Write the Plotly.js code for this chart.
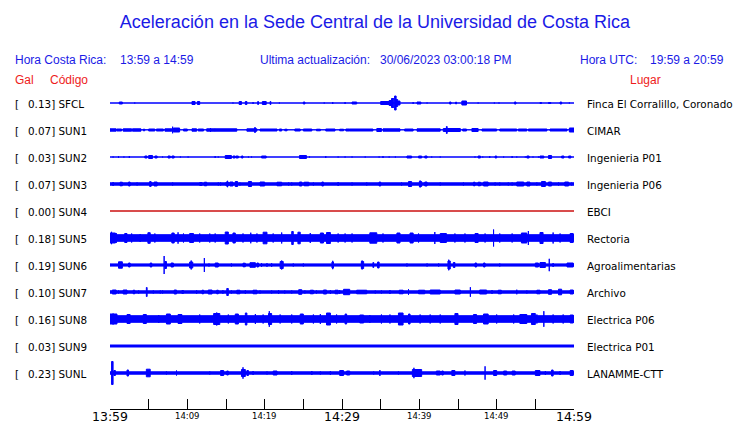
<!DOCTYPE html>
<html><head><meta charset="utf-8">
<script src="https://cdn.plot.ly/plotly-3.0.1.min.js"></script>
<style>html,body{margin:0;padding:0;background:#fff}</style>
</head><body><div id="chart" style="width:740px;height:423px"></div>
<script>
// ---------------- data ----------------
const codes = ['SFCL','SUN1','SUN2','SUN3','SUN4','SUN5','SUN6','SUN7','SUN8','SUN9','SUNL'];
const galValues = [0.13,0.07,0.03,0.07,0.00,0.18,0.19,0.10,0.16,0.03,0.23];
const places = ['Finca El Corralillo, Coronado','CIMAR','Ingenieria P01','Ingenieria P06','EBCI','Rectoria','Agroalimentarias','Archivo','Electrica P06','Electrica P01','LANAMME-CTT'];
// background trace amplitude (half-height, screen units) per station
const baseAmp = [0.5,0.7,0.5,1.7,0.5,3.8,1.6,1.7,3.8,1.5,1.7];
// minute ticks (minutes after 13:59) and their labels
const tickMinutes = [0,5,10,15,20,25,30,35,40,45,50,55,60];
const tickLabels = ['13:59','','14:09','','14:19','','14:29','','14:39','','14:49','','14:59'];
// events: [start minute, end minute, half amplitude]
const eventsSFCL = [[1.2,1.6,1.5],[3.2,3.2,1],[10.6,11.0,2],[11.3,11.6,2],[15.9,15.9,1],[16.7,17.0,2],[17.5,17.7,2],[18.5,18.5,1.5],[19.1,19.2,2],[19.7,20.2,2],[20.7,20.8,2],[21.9,21.9,1],[25.0,25.2,1.5],[27.7,27.7,1],[28.8,28.8,1.5],[30.4,30.4,1.5],[31.3,31.9,1.5],[35.0,36.1,2],[36.1,36.4,3],[36.4,36.7,5],[36.8,37.0,7.5],[37.0,37.2,4],[37.2,37.5,2.5],[39.2,39.2,1.5],[39.7,40.2,1.5],[41.0,41.0,1],[43.9,44.1,1.5],[44.7,44.8,1.5],[45.5,46.1,2.5],[47.6,47.6,1],[49.7,49.7,1],[50.3,50.3,1],[52.3,52.5,1.5],[55.6,55.8,1],[56.7,57.0,1],[58.2,58.4,1.5],[59.4,59.4,1]];
const eventsSUN1 = [[0,0.8,1.7],[0.9,1.5,1.5],[1.7,2.8,1.7],[2.9,4.0,1.7],[4.3,4.5,1.3],[5.0,5.8,1.5],[6.0,6.9,1.5],[7.1,8.0,1.7],[8.1,8.1,3.8],[8.2,9.0,2.5],[9.5,10.0,1.5],[10.6,11.2,1.7],[11.4,12.1,1.5],[12.5,13.6,1.7],[13.0,13.0,2.5],[13.6,16.4,1.7],[17.7,19.0,1.7],[18.7,18.8,3],[19.4,21.6,1.5],[21.9,22.2,1.5],[22.6,22.9,1.3],[23.9,24.6,1.5],[25.0,26.1,1.5],[26.7,27.2,1.3],[27.9,29.1,1.5],[29.7,30.2,1.3],[30.5,31.0,1.5],[31.0,34.0,1.5],[34.5,35.1,2],[34.8,34.8,2.5],[35.3,37.5,1.7],[38.1,39.2,1.5],[39.7,42.7,1.7],[43.1,43.5,2],[43.5,43.6,4],[43.6,45.3,2],[45.6,46.1,1.5],[46.8,47.6,2],[47.2,47.2,2.5],[48.1,50.0,1.5],[50.4,52.6,1.5],[52.8,53.9,1.5],[54.1,56.5,1.5],[56.9,59.1,1.5],[59.4,60,2.5]];
const eventsSUN2 = [[0.4,0.4,1],[1.1,1.1,1.5],[1.8,1.8,1],[2.5,2.5,1.5],[4.5,4.8,1.5],[5.0,5.5,2],[5.8,6.1,1.5],[6.8,6.8,1],[7.5,7.8,1.5],[8.0,8.3,1.5],[9.1,9.1,1],[10.1,10.1,1],[13.6,13.6,1.5],[14.0,14.0,1],[14.9,15.7,2],[15.9,16.2,1.5],[16.3,16.6,1.5],[17.0,17.2,1.5],[17.9,17.9,1],[18.3,18.3,1],[19.6,20.2,1.5],[24.5,25.4,2],[25.8,25.8,1],[27.9,27.9,1.5],[29.5,29.5,1],[30.4,30.4,1],[31.3,31.3,1],[33.0,33.0,1],[34.8,34.8,1],[35.3,35.3,1.5],[36.1,36.1,1],[36.9,36.9,1],[38.4,39.0,1.5],[39.9,40.3,1.5],[40.7,41.0,1.5],[41.6,41.6,1],[42.7,42.7,1],[47.2,47.2,1],[47.6,47.9,1.5],[48.2,48.2,1],[49.1,49.1,1.5],[49.8,50.0,1.5],[50.9,50.9,1],[52.0,52.0,1.5],[52.6,52.6,1],[53.7,53.7,1],[53.9,54.2,1.5],[54.7,54.7,1],[55.4,55.4,1],[55.6,56.1,1.5],[56.7,57.1,2],[58.4,58.7,1.5],[59.3,59.6,1.5]];
const eventsSUN3 = [[0.4,0.4,2.5],[1.3,1.6,2.3],[2.4,2.6,2.5],[3.5,3.5,2],[5.1,5.4,2.5],[5.2,5.2,3.5],[5.7,6.1,2.5],[8.1,8.1,2],[11.6,11.9,2],[12.2,12.5,2.3],[14.0,14.0,2],[14.3,14.3,2],[15.0,15.3,2.5],[15.2,15.2,3.7],[15.5,15.9,2.5],[16.2,16.5,3],[16.8,16.8,2],[17.9,18.3,3],[19.4,20.0,2.5],[21.6,22.2,2.3],[23.1,23.1,2],[23.5,23.5,2],[24.5,24.8,2.5],[25.1,25.7,2.3],[26.3,26.3,2],[27.4,27.6,2.5],[29.5,29.5,2.5],[31.3,31.3,2],[33.2,33.2,2],[34.8,35.0,2.5],[37.7,37.7,2],[38.6,39.0,3],[40.0,40.3,3],[40.1,40.1,4],[40.7,41.0,2.5],[42.7,42.7,2],[45.7,45.7,2],[47.0,47.2,2.3],[47.6,47.9,2.3],[48.3,48.9,2.5],[49.8,49.8,2],[50.4,50.4,2],[51.5,51.5,2],[52.0,52.0,2],[52.6,53.5,2.5],[53.9,54.3,2.5],[55.2,55.2,2],[55.8,56.3,3],[56.7,57.1,2.5],[58.0,58.0,2],[58.8,59.3,2.5],[59.7,59.7,2]];
const eventsSUN4 = [];
const eventsSUN5 = [[0,0.7,5.5],[0.2,0.2,6.7],[0.8,0.8,5.5],[1.9,2.2,5],[2.8,2.8,5],[3.9,3.9,4.5],[4.9,5.2,5.8],[5.8,5.8,5],[8.0,8.3,5.5],[8.8,8.8,6.2],[9.5,9.5,5],[10.3,10.8,5],[11.6,11.6,5],[12.9,12.9,5],[13.6,13.6,5],[14.9,15.3,6.5],[15.9,16.2,5.5],[17.2,17.2,5],[18.2,18.2,5.8],[19.0,19.0,5],[19.8,20.3,6.3],[21.1,21.1,5],[22.2,22.2,6],[23.5,23.7,7],[24.3,24.6,6.3],[25.9,25.9,5.5],[27.2,27.6,5.5],[28.0,28.5,6],[29.5,29.5,5],[30.4,30.4,5],[31.3,31.3,5],[33.6,34.5,5.7],[35.3,35.3,5],[37.1,37.5,5.5],[38.8,39.2,5.5],[39.9,39.9,5],[42.0,42.0,6.5],[42.7,43.5,5],[44.6,44.6,5],[45.9,45.9,5],[47.2,47.6,5],[48.5,48.5,5],[49.6,49.6,9],[50.4,50.4,5],[52.0,52.0,5],[53.2,53.9,5.5],[54.1,54.1,7.5],[55.6,56.0,6],[57.3,57.3,6],[58.2,58.2,5],[59.5,59.9,5]];
const eventsSUN6 = [[1.1,1.6,3.7],[2.4,2.6,2.5],[5.2,5.4,2.5],[7.0,7.0,9.5],[7.1,7.3,4],[7.9,8.2,2.5],[10.3,10.7,3.5],[10.5,10.5,5],[12.2,12.2,7.5],[12.8,12.8,2],[13.6,14.0,2.5],[15.7,15.7,2],[17.2,17.5,2.3],[18.1,18.8,2.8],[19.0,19.2,2.5],[19.6,19.6,2.3],[20.3,20.3,2.3],[20.9,20.9,2.3],[22.0,22.4,4],[22.2,22.2,5],[23.7,23.7,2],[25.0,25.0,2],[28.7,28.9,3.5],[28.8,28.8,4.7],[32.5,32.8,4],[32.6,32.6,5],[34.0,34.1,3],[34.6,34.8,3.5],[38.4,38.4,2],[41.0,41.0,2],[42.5,42.5,2],[43.7,44.0,4.5],[43.8,43.8,5.8],[44.4,44.6,3],[47.2,47.4,2.5],[48.3,48.5,2.5],[50.4,50.4,2],[55.0,55.4,2.5],[55.6,56.3,3],[56.8,56.8,6.7],[57.3,57.3,2.5],[59.1,59.9,2.5]];
const eventsSUN7 = [[0.3,0.8,2.5],[1.1,1.1,2],[1.7,2.2,2.5],[3.0,3.2,2.3],[3.7,3.7,2],[4.7,4.8,5],[5.6,5.6,2],[6.5,6.5,2],[6.8,6.8,2],[8.3,8.6,2.5],[9.3,9.5,2],[11.2,11.2,2.3],[11.9,12.1,2.3],[12.7,13.2,2.5],[13.8,14.0,2.3],[14.6,14.6,2.3],[15.1,15.3,4],[15.7,15.7,2],[16.4,16.8,2.3],[17.5,17.5,2.3],[18.5,19.0,2.3],[19.4,19.4,2],[20.9,20.9,2],[21.8,21.8,2.3],[22.6,22.6,2],[23.5,23.5,2],[24.4,24.8,2.8],[25.2,25.2,2],[25.9,26.3,2.3],[26.7,26.7,2],[27.6,28.0,2.5],[28.5,28.5,2.5],[29.1,29.5,2.3],[29.7,29.7,2.5],[30.2,31.0,3.2],[31.9,33.2,2.3],[34.3,34.3,2],[35.1,35.1,2],[36.2,36.2,2.5],[37.4,37.9,2.3],[38.6,38.6,3.3],[39.9,40.7,2.3],[41.4,42.7,2.5],[44.6,45.3,2.5],[46.6,46.6,5.3],[47.8,48.7,2.5],[49.4,49.4,2.5],[50.2,50.6,2.3],[52.6,52.6,2.8],[53.9,53.9,2],[55.2,55.6,2.3],[56.7,57.1,2.8],[58.0,58.4,3.3],[59.5,59.9,2.5]];
const eventsSUN8 = [[0,0.9,5.5],[0.4,0.4,6],[2.2,2.6,5],[4.3,4.7,5],[6.3,6.3,4.5],[7.3,7.8,5.5],[8.8,9.3,5],[11.6,11.6,5],[13.4,14.2,6],[13.8,13.8,7],[15.3,15.3,5],[16.2,16.6,5.5],[17.5,17.7,6.5],[18.8,18.8,5.5],[19.8,19.8,5],[20.5,20.9,6],[20.6,20.6,8.3],[22.0,22.0,5],[23.5,23.5,5],[24.6,25.0,5.5],[26.3,26.3,5],[27.2,27.2,5.5],[28.0,28.5,6.5],[29.3,29.3,5],[30.4,30.6,5.5],[32.3,32.8,4.5],[33.6,33.6,4.5],[35.1,35.1,5],[36.2,36.2,5],[37.3,37.9,6.5],[38.6,38.8,5.5],[40.1,40.1,5],[41.4,41.4,5],[42.7,42.7,5],[44.6,45.0,6],[47.0,47.4,5],[48.3,48.9,5.5],[50.0,50.0,5],[52.2,52.2,5],[53.0,53.9,5],[54.5,55.0,6],[55.2,55.2,5],[56.1,56.1,8.3],[57.3,57.3,5],[58.6,58.6,5],[59.5,59.9,4.5]];
const eventsSUN9 = [];
const eventsSUNL = [[0.2,0.4,12],[0.5,0.7,3],[2.2,2.4,3.5],[4.7,5.2,4.3],[7.3,7.3,2],[8.6,8.6,3],[12.9,12.9,2],[14.3,14.7,3],[15.1,15.3,2.5],[17.0,17.5,4],[17.2,17.2,6.2],[17.7,17.9,3],[18.5,18.5,2.5],[20.3,20.3,2],[21.1,21.6,2.5],[23.5,23.5,2.5],[26.1,26.1,2.5],[27.2,27.2,2],[28.5,28.5,2.5],[29.7,30.2,3],[30.6,31.0,2.5],[34.1,34.1,2],[34.9,34.9,3.5],[37.3,37.3,2],[39.1,40.3,4],[39.3,39.3,5.7],[42.2,42.7,2.5],[42.9,43.1,2.5],[44.2,44.6,3],[45.9,45.9,3],[48.5,48.5,7.2],[49.6,50.0,3],[50.9,51.3,2.5],[52.0,52.4,2.5],[55.0,55.6,3],[56.3,56.3,2.5],[57.1,57.3,3.5],[58.2,58.2,2.5],[59.5,59.9,3]];
const eventsList = [eventsSFCL,eventsSUN1,eventsSUN2,eventsSUN3,eventsSUN4,eventsSUN5,eventsSUN6,eventsSUN7,eventsSUN8,eventsSUN9,eventsSUNL];

// ---------------- drawing ----------------
const BLUE = '#0000ff', DEADRED = '#cc1111', HEADBLUE = '#1a1ae6', HEADRED = '#ee1c1c';
const ROW0 = 13, ROWSTEP = 27; // screen-unit row placement
const traces = codes.map((code, i) => {
  const c = ROW0 + ROWSTEP * i;
  const xs = [], ys = [];
  const segs = [[0, 60, baseAmp[i]]].concat(eventsList[i]);
  segs.forEach(([t0, t1, a]) => {
    const h = Math.max(a - 0.5, 0);
    xs.push(t0, t1, t1, t0, t0, null);
    ys.push(c - h, c - h, c + h, c + h, c - h, null);
  });
  const col = galValues[i] === 0 ? DEADRED : BLUE;
  return {type: 'scatter', mode: 'lines', x: xs, y: ys, fill: 'toself', fillcolor: col,
          line: {color: col, width: 1}, hoverinfo: 'skip', showlegend: false, connectgaps: false};
});

const L = 110, T = 90;
const ann = [];
function headerText(text, px, py, color, size, anchor) {
  ann.push({text, xref: 'paper', x: 0, xshift: px - L, yref: 'paper', y: 1, yshift: T - py,
            xanchor: anchor || 'left', yanchor: 'middle', showarrow: false, borderpad: 0, borderwidth: 0,
            font: {family: 'Liberation Sans, Arial, sans-serif', size, color}});
}
headerText('Hora Costa Rica:', 15, 60, HEADBLUE, 12);
headerText('13:59 a 14:59', 120, 60, HEADBLUE, 12);
headerText('Ultima actualización:', 260, 60, HEADBLUE, 12);
headerText('30/06/2023 03:00:18 PM', 380, 60, HEADBLUE, 12);
headerText('Hora UTC:', 580, 60, HEADBLUE, 12);
headerText('19:59 a 20:59', 650, 60, HEADBLUE, 12);
headerText('Gal', 15, 80, HEADRED, 12);
headerText('Código', 50, 80, HEADRED, 12);
headerText('Lugar', 630, 80, HEADRED, 12);

const labFont = {family: 'DejaVu Sans, sans-serif', size: 10.4, color: '#000'};
codes.forEach((code, i) => {
  const c = ROW0 + ROWSTEP * i;
  const common = {xref: 'paper', x: 0, yref: 'y', y: c, yshift: -1, xanchor: 'left', yanchor: 'middle',
                  showarrow: false, borderpad: 0, borderwidth: 0, font: labFont};
  ann.push(Object.assign({}, common, {text: '[', xshift: 15 - L}));
  ann.push(Object.assign({}, common, {text: galValues[i].toFixed(2) + '] ' + code, xshift: 27.5 - L}));
  ann.push(Object.assign({}, common, {text: places[i], xshift: 587 - L}));
});
tickMinutes.forEach((m, k) => {
  if (!tickLabels[k]) return;
  const big = m % 30 === 0;
  ann.push({text: tickLabels[k], xref: 'x', x: m, yref: 'paper', y: 0, yshift: big ? -7.5 : -7,
            xanchor: 'center', yanchor: 'middle', showarrow: false, borderpad: 0, borderwidth: 0,
            font: {family: 'DejaVu Sans, sans-serif', size: big ? 12.5 : 8.5, color: '#000'}});
});

const layout = {
  width: 740, height: 423,
  margin: {l: L, r: 740 - 574, t: T, b: 423 - 409, pad: 0},
  paper_bgcolor: '#fff', plot_bgcolor: '#fff',
  title: {text: 'Aceleración en la Sede Central de la Universidad de Costa Rica',
          font: {family: 'Liberation Sans, Arial, sans-serif', size: 18, color: HEADBLUE},
          xref: 'container', x: 375 / 740, xanchor: 'center',
          yref: 'container', y: 1 - 22 / 423, yanchor: 'middle'},
  xaxis: {range: [0, 60], tickmode: 'array', tickvals: tickMinutes, showticklabels: false,
          ticks: 'inside', ticklen: 10, tickwidth: 1, tickcolor: '#000',
          showline: true, linecolor: '#000', linewidth: 1, showgrid: false, zeroline: false, fixedrange: true},
  yaxis: {range: [409 - T, 0], visible: false, showgrid: false, zeroline: false, fixedrange: true},
  annotations: ann,
  showlegend: false
};
Plotly.newPlot('chart', traces, layout, {staticPlot: true, displayModeBar: false});
</script></body></html>
